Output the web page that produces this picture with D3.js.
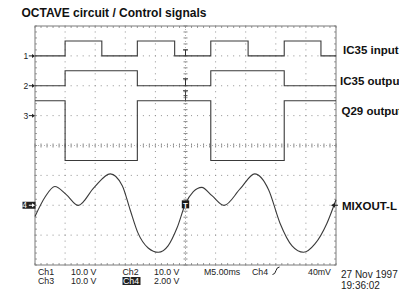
<!DOCTYPE html>
<html lang="en">
<head>
    <meta charset="UTF-8">
    <title>OCTAVE circuit / Control signals</title>
    <script src="https://cdnjs.cloudflare.com/ajax/libs/d3/7.8.5/d3.min.js"></script>
    <style>
        body { margin: 0; background: #fff; }
        svg { display: block; }
        .lbl { font-family: "Liberation Sans", Arial, sans-serif; font-weight: bold; fill: #111; }
        .scr { font-family: "Liberation Sans", Arial, sans-serif; fill: #222; }
    </style>
</head>
<body>
    <svg id="chart" width="399" height="290"></svg>
    <script>
        // time axis: 10 divisions of 5 ms
        const timeDomain = [0, 50];

        // Ch1..Ch3 square waves: [time ms, volts], drawn as steps
        const ch1Points = [[0, 0], [5.0, 5], [11.1, 0], [17.0, 5], [23.2, 0], [29.2, 5], [35.4, 0], [41.4, 5], [47.5, 0], [50, 0]];
        const ch2Points = [[0, 0], [5.0, 5], [17.0, 0], [29.2, 5], [41.4, 0], [50, 0]];
        const ch3Points = [[0, 5], [5.0, -15], [17.0, 5], [29.2, -15], [41.4, 5], [50, 5]];

        // Ch4 (MIXOUT-L)
        const ch4Times = [0, 1.7, 3.3, 5.2, 7.2, 9.8, 12.5, 14.5, 15.8, 17.1, 18.8, 20.5, 22.1, 23.6, 25.0, 26.3, 27.7, 29.4, 31.4, 34.1, 36.5, 38.8, 40.7, 42.7, 44.6, 46.5, 48.5, 50];
        const ch4Volts = [-0.75, 0.57, 1.26, 0.71, -0.01, 1.18, 2.10, 1.31, -0.30, -1.85, -2.86, -3.15, -2.72, -1.51, 0.10, 0.91, 1.20, 0.64, -0.01, 1.11, 2.10, 1.04, -1.20, -2.72, -3.15, -2.59, -1.20, 0.37];

        const channelNames = ["IC35 input", "IC35 output", "Q29 output", "MIXOUT-L"];
        const channelOffsets = [3, 2, 1, -2];      // ground level in divisions
        const voltsPerDiv = [10, 10, 10, 2];

        const readoutRow1 = ["Ch1", "10.0 V", "Ch2", "10.0 V", "M5.00ms", "Ch4", "40mV"];
        const readoutRow2 = ["Ch3", "10.0 V", "Ch4", "2.00 V"];
        const stamp = ["27 Nov 1997", "19:36:02"];

        const svg = d3.select("#chart");
        const X0 = 35, X1 = 336, Y0 = 26, Y1 = 265;

        const x = d3.scaleLinear().domain(timeDomain).range([X0, X1]);
        const div = d3.scaleLinear().domain([-4, 4]).range([Y1, Y0]);
        const xd = d3.scaleLinear().domain([0, 10]).range([X0, X1]);

        // title
        svg.append("text").attr("class", "lbl")
            .attr("x", 21.5).attr("y", 16.5)
            .attr("font-size", "12px")
            .text("OCTAVE circuit / Control signals");

        const grid = svg.append("g");
        const minorX = d3.range(0, 50.01, 1).map(v => xd(v / 5));
        const minorY = d3.range(0, 40.01, 1).map(v => div(v / 5 - 4));

        // dotted grid lines
        for (let i = 1; i < 10; i++) {
            if (i === 5) continue;
            minorY.forEach(yy => grid.append("rect").attr("x", xd(i) - 0.5).attr("y", yy - 0.5)
                .attr("width", 1).attr("height", 1).attr("fill", "#909090"));
        }
        for (let j = -3; j <= 3; j++) {
            if (j === 0) continue;
            minorX.forEach(xx => grid.append("rect").attr("x", xx - 0.5).attr("y", div(j) - 0.5)
                .attr("width", 1).attr("height", 1).attr("fill", "#909090"));
        }

        // centre cross with ticks
        minorX.forEach(xx => {
            grid.append("line").attr("x1", xx).attr("x2", xx)
                .attr("y1", div(0) - 2).attr("y2", div(0) + 2)
                .attr("stroke", "#8a8a8a").attr("stroke-width", 1);
        });
        minorY.forEach(yy => {
            grid.append("line").attr("x1", xd(5) - 2).attr("x2", xd(5) + 2)
                .attr("y1", yy).attr("y2", yy)
                .attr("stroke", "#8a8a8a").attr("stroke-width", 1);
        });
        grid.append("line").attr("x1", X0).attr("x2", X1).attr("y1", div(0)).attr("y2", div(0))
            .attr("stroke", "#b0b0b0").attr("stroke-dasharray", "1,2");
        grid.append("line").attr("x1", xd(5)).attr("x2", xd(5)).attr("y1", Y0).attr("y2", Y1)
            .attr("stroke", "#b0b0b0").attr("stroke-dasharray", "1,2");

        // edge ticks
        minorX.forEach(xx => {
            grid.append("line").attr("x1", xx).attr("x2", xx).attr("y1", Y0).attr("y2", Y0 + 2).attr("stroke", "#999");
            grid.append("line").attr("x1", xx).attr("x2", xx).attr("y1", Y1 - 2).attr("y2", Y1).attr("stroke", "#999");
        });
        minorY.forEach(yy => {
            grid.append("line").attr("x1", X0).attr("x2", X0 + 2).attr("y1", yy).attr("y2", yy).attr("stroke", "#999");
            grid.append("line").attr("x1", X1 - 2).attr("x2", X1).attr("y1", yy).attr("y2", yy).attr("stroke", "#999");
        });

        // frame
        svg.append("rect").attr("x", X0).attr("y", Y0)
            .attr("width", X1 - X0).attr("height", Y1 - Y0)
            .attr("fill", "none").attr("stroke", "#7a7a7a").attr("stroke-width", 1);

        // traces
        const squareData = [ch1Points, ch2Points, ch3Points];
        squareData.forEach((pts, i) => {
            const line = d3.line()
                .x(d => x(d[0]))
                .y(d => div(channelOffsets[i] + d[1] / voltsPerDiv[i]))
                .curve(d3.curveStepAfter);
            svg.append("path").datum(pts)
                .attr("d", line)
                .attr("fill", "none")
                .attr("stroke", "#3a3a3a")
                .attr("stroke-width", 1.1);
        });

        const ch4Data = ch4Times.map((t, i) => [t, ch4Volts[i]]);
        const ch4Line = d3.line()
            .x(d => x(d[0]))
            .y(d => div(channelOffsets[3] + d[1] / voltsPerDiv[3]))
            .curve(d3.curveMonotoneX);
        svg.append("path").datum(ch4Data)
            .attr("d", ch4Line)
            .attr("fill", "none")
            .attr("stroke", "#3a3a3a")
            .attr("stroke-width", 1.1);

        // trigger-point marks on the square traces
        const xc = x(25);
        [[div(3), 6], [div(2), 7]].forEach(([yy, h]) => {
            svg.append("path")
                .attr("d", `M${xc - 2.5},${yy - h}H${xc + 2.5}M${xc},${yy - h}V${yy}`)
                .attr("stroke", "#333").attr("stroke-width", 1).attr("fill", "none");
        });
        svg.append("path")
            .attr("d", `M${xc - 2.5},${div(1.5) - 10}H${xc + 2.5}M${xc - 2},${div(1.5) - 5}H${xc + 2}M${xc},${div(1.5) - 10}V${div(1.5)}`)
            .attr("stroke", "#444").attr("stroke-width", 1).attr("fill", "none");

        // trigger level box on ch4
        const ty = div(channelOffsets[3] + 0.04 / voltsPerDiv[3]);
        svg.append("rect").attr("x", xc - 3.7).attr("y", ty - 4.3)
            .attr("width", 7.4).attr("height", 8).attr("fill", "#1a1a1a");
        svg.append("text").attr("class", "lbl").attr("x", xc).attr("y", ty + 3)
            .attr("text-anchor", "middle").attr("font-size", "8px")
            .style("fill", "#fff").text("T");

        // ground markers on the left
        channelOffsets.forEach((o, i) => {
            const yy = div(o);
            const inv = i === 3;
            if (inv) {
                svg.append("rect").attr("x", 22.5).attr("y", yy - 3.5)
                    .attr("width", 13).attr("height", 7).attr("fill", "#222");
            }
            const col = inv ? "#fff" : "#222";
            svg.append("text").attr("class", "scr")
                .attr("x", inv ? 27 : 28.2).attr("y", yy + 3.2)
                .attr("text-anchor", "end").attr("font-size", "8.5px")
                .style("fill", col).text(String(i + 1));
            svg.append("path")
                .attr("d", `M${28.8},${yy}H${34}`)
                .attr("stroke", col).attr("stroke-width", 1);
            svg.append("path")
                .attr("d", `M${35},${yy}L${32},${yy - 2}L${32},${yy + 2}Z`)
                .attr("fill", col);
        });

        // ch4 marker arrow on right
        const ry = div(channelOffsets[3]);
        svg.append("path").attr("d", `M${331},${ry}L${335},${ry - 2.5}L${335},${ry + 2.5}Z`).attr("fill", "#222");
        svg.append("path").attr("d", `M${334},${ry}H${338}`).attr("stroke", "#222");

        // channel labels (the right edge of the screenshot cuts them, as in the original)
        const labelX = [343, 340, 341.5, 342];
        const labelY = [53.5, 85, 115, 210];
        channelNames.forEach((n, i) => {
            svg.append("text").attr("class", "lbl")
                .attr("x", labelX[i]).attr("y", labelY[i])
                .attr("font-size", "11.5px").text(n);
        });

        // readout
        const r1x = [38, 71, 122.5, 154, 204, 252, 308];
        const r2x = [38, 71, 122.5, 154];
        readoutRow1.forEach((t, i) => {
            svg.append("text").attr("class", "scr").attr("x", r1x[i]).attr("y", 274.5)
                .attr("font-size", "8.8px").attr("textLength", null).text(t);
        });
        // trigger slope glyph
        svg.append("path").attr("d", "M272.5,274.5Q275,274.5 276,270.5Q277,267 279.5,267")
            .attr("fill", "none").attr("stroke", "#222").attr("stroke-width", 1);
        svg.append("rect").attr("x", 122.5).attr("y", 277).attr("width", 18).attr("height", 8).attr("fill", "#222");
        readoutRow2.forEach((t, i) => {
            svg.append("text").attr("class", "scr").attr("x", r2x[i] + (i === 2 ? 0.5 : 0)).attr("y", 284.3)
                .attr("font-size", "8.8px").style("fill", i === 2 ? "#fff" : "#222").text(t);
        });
        svg.append("text").attr("class", "scr").attr("x", 341).attr("y", 277.5)
            .attr("font-size", "10px").text(stamp[0]);
        svg.append("text").attr("class", "scr").attr("x", 341).attr("y", 289)
            .attr("font-size", "10px").text(stamp[1]);
    </script>
</body>
</html>
